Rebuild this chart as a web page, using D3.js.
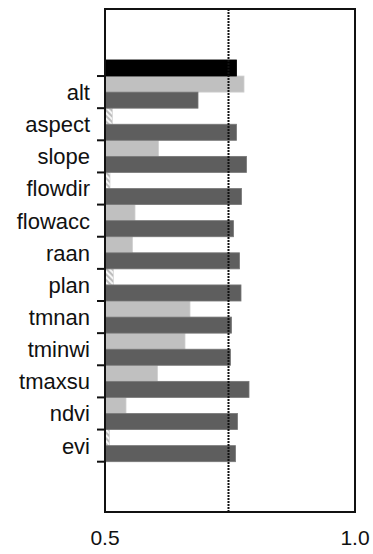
<!DOCTYPE html>
<html>
<head>
<meta charset="utf-8">
<script src="https://cdn.jsdelivr.net/npm/d3@7"></script>
<style>
  body { margin: 0; background: #fff; }
  text { font-family: "Liberation Sans", Arial, sans-serif; }
</style>
</head>
<body>
<div id="chart"></div>
<script>
// variable names, top row is the all-variables model (no label)
var categories = ["", "alt", "aspect", "slope", "flowdir", "flowacc", "raan", "plan", "tmnan", "tminwi", "tmaxsu", "ndvi", "evi"];
// upper bar of each pair (single variable)
var lightValues = [null, 0.778, 0.515, 0.607, 0.510, 0.560, 0.555, 0.517, 0.670, 0.660, 0.605, 0.542, 0.509];
// hatched ones in the picture
var lightHatched = [false, false, true, false, true, false, false, true, false, false, false, false, true];
// lower bar of each pair (model without the variable), first one is the full model
var darkValues = [0.763, 0.686, 0.763, 0.783, 0.773, 0.757, 0.769, 0.772, 0.753, 0.751, 0.788, 0.765, 0.761];
var refLine = 0.747;
var xTicks = [0.5, 1.0];

var width = 373, height = 554;
// note: "top" clashes with window.top, so plot edges get their own names
var plotLeft = 105, plotRight = 355, plotTop = 9, plotBottom = 512;

var svg = d3.select("#chart").append("svg")
  .attr("width", width)
  .attr("height", height);

var defs = svg.append("defs");
var pat = defs.append("pattern")
  .attr("id", "hatch")
  .attr("patternUnits", "userSpaceOnUse")
  .attr("width", 4)
  .attr("height", 4)
  .attr("patternTransform", "rotate(-45)");
pat.append("rect").attr("width", 4).attr("height", 4).attr("fill", "#f4f4f4");
pat.append("rect").attr("width", 2).attr("height", 4).attr("fill", "#bdbdbd");

var x = d3.scaleLinear().domain([0.5, 1.0]).range([plotLeft, plotRight]);

var y = d3.scaleBand()
  .domain(d3.range(categories.length))
  .range([43.9, 461.7])
  .paddingInner(0)
  .paddingOuter(0);

var sub = d3.scaleBand()
  .domain(["light", "dark"])
  .range([0, y.bandwidth()]);

var rows = categories.map(function(c, i) {
  return { name: c, i: i, light: lightValues[i], hatched: lightHatched[i], dark: darkValues[i] };
});

// light bars
svg.append("g").selectAll("rect")
  .data(rows.filter(function(d) { return d.light != null; }))
  .enter().append("rect")
  .attr("x", x(0.5))
  .attr("y", function(d) { return y(d.i) + sub("light"); })
  .attr("width", function(d) { return x(d.light) - x(0.5); })
  .attr("height", sub.bandwidth())
  .attr("fill", function(d) { return d.hatched ? "url(#hatch)" : "#c0c0c0"; })
  .attr("stroke", function(d) { return d.hatched ? "#d8d8d8" : "#d0d0d0"; })
  .attr("stroke-width", 0.8);

// dark bars
svg.append("g").selectAll("rect")
  .data(rows)
  .enter().append("rect")
  .attr("x", x(0.5))
  .attr("y", function(d) { return y(d.i) + sub("dark"); })
  .attr("width", function(d) { return x(d.dark) - x(0.5); })
  .attr("height", sub.bandwidth())
  .attr("fill", function(d) { return d.i === 0 ? "#000" : "#5e5e5e"; })
  .attr("stroke", function(d) { return d.i === 0 ? "#000" : "#777"; })
  .attr("stroke-width", 0.8);

// reference line
svg.append("line")
  .attr("x1", x(refLine)).attr("x2", x(refLine))
  .attr("y1", plotTop).attr("y2", plotBottom)
  .attr("stroke", "#111")
  .attr("stroke-width", 2)
  .attr("stroke-dasharray", "2,1");

// frame
svg.append("rect")
  .attr("x", plotLeft).attr("y", plotTop)
  .attr("width", plotRight - plotLeft).attr("height", plotBottom - plotTop)
  .attr("fill", "none")
  .attr("stroke", "#111")
  .attr("stroke-width", 2);

// category ticks, between groups
var tickYs = d3.range(1, categories.length + 1).map(function(i) { return y(0) + i * y.step(); });
svg.append("g").selectAll("line")
  .data(tickYs)
  .enter().append("line")
  .attr("x1", plotLeft - 8).attr("x2", plotLeft)
  .attr("y1", function(d) { return d; }).attr("y2", function(d) { return d; })
  .attr("stroke", "#111")
  .attr("stroke-width", 2);

// category labels
svg.append("g").selectAll("text")
  .data(rows.filter(function(d) { return d.name !== ""; }))
  .enter().append("text")
  .attr("x", 90)
  .attr("y", function(d) { return y(d.i) + y.bandwidth() / 2; })
  .attr("dy", "0.36em")
  .attr("text-anchor", "end")
  .style("font-size", "22px")
  .attr("fill", "#111")
  .text(function(d) { return d.name; });

// x tick labels
svg.append("g").selectAll("text")
  .data(xTicks)
  .enter().append("text")
  .attr("x", function(d) { return x(d); })
  .attr("y", 545)
  .attr("text-anchor", "middle")
  .style("font-size", "21px")
  .attr("fill", "#111")
  .text(function(d) { return d3.format(".1f")(d); });
</script>
</body>
</html>
